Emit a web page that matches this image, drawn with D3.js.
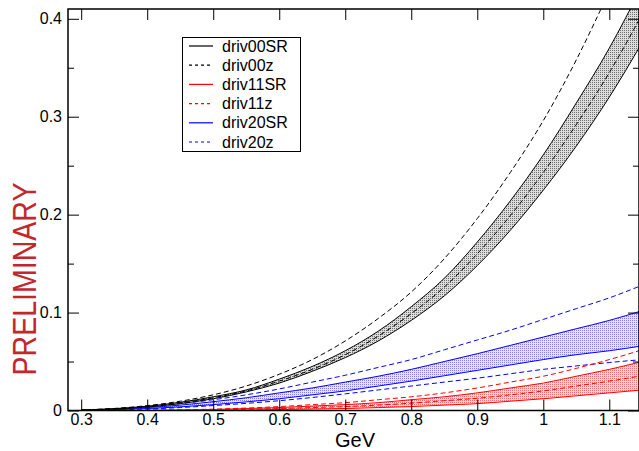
<!DOCTYPE html>
<html>
<head>
<meta charset="utf-8">
<script src="https://cdn.jsdelivr.net/npm/d3@7"></script>
<style>
  body { margin: 0; background: #fff; }
  svg text { font-family: "Liberation Sans", Arial, sans-serif; }
</style>
</head>
<body>
<div id="chart"></div>
<script>
// energies (GeV)
var gev = [0.3, 0.35, 0.4, 0.45, 0.5, 0.55, 0.6, 0.65, 0.7, 0.75, 0.8, 0.85, 0.9, 0.95, 1.0, 1.05, 1.1, 1.15];

// driv00 : band + inner dashed, and separate dashed z curve
var d00Lo  = [0.0004, 0.0015, 0.0036, 0.007, 0.012, 0.019, 0.028, 0.040, 0.054, 0.071, 0.092, 0.117, 0.148, 0.184, 0.225, 0.270, 0.320, 0.376];
var d00Mid = [0.0005, 0.0017, 0.0040, 0.0077, 0.013, 0.020, 0.030, 0.042, 0.057, 0.076, 0.099, 0.126, 0.160, 0.199, 0.243, 0.292, 0.345, 0.405];
var d00Hi  = [0.0006, 0.0019, 0.0044, 0.0084, 0.014, 0.021, 0.032, 0.045, 0.061, 0.081, 0.106, 0.135, 0.172, 0.214, 0.261, 0.314, 0.370, 0.434];
var d00z   = [0.0006, 0.0021, 0.005, 0.0095, 0.016, 0.025, 0.037, 0.052, 0.071, 0.094, 0.121, 0.155, 0.196, 0.243, 0.296, 0.358, 0.428, 0.500];

// driv11 : band + inner dashed, and dashed z curve
var d11Lo  = [0, 0, 0, 0.0001, 0.0002, 0.0005, 0.001, 0.0015, 0.002, 0.003, 0.004, 0.0055, 0.007, 0.0095, 0.012, 0.015, 0.018, 0.021];
var d11Mid = [0, 0, 0.0001, 0.0003, 0.0006, 0.0012, 0.002, 0.003, 0.004, 0.0055, 0.0075, 0.010, 0.0125, 0.016, 0.020, 0.025, 0.030, 0.0355];
var d11Hi  = [0, 0, 0.0002, 0.0005, 0.001, 0.002, 0.003, 0.0045, 0.006, 0.008, 0.011, 0.014, 0.018, 0.023, 0.028, 0.035, 0.042, 0.050];
var d11z   = [0, 0, 0.0003, 0.0007, 0.0014, 0.0025, 0.004, 0.006, 0.008, 0.011, 0.014, 0.018, 0.023, 0.029, 0.035, 0.043, 0.052, 0.062];

// driv20 : band and two dashed z curves
var d20Lo  = [0, 0.0008, 0.002, 0.0037, 0.006, 0.0088, 0.012, 0.016, 0.020, 0.025, 0.030, 0.0355, 0.041, 0.0465, 0.052, 0.057, 0.061, 0.066];
var d20Hi  = [0, 0.0012, 0.003, 0.0055, 0.009, 0.013, 0.018, 0.023, 0.029, 0.035, 0.042, 0.050, 0.058, 0.0665, 0.075, 0.0835, 0.092, 0.102];
var d20zLo = [0, 0.0006, 0.0015, 0.003, 0.005, 0.0073, 0.010, 0.0133, 0.017, 0.021, 0.025, 0.029, 0.033, 0.0375, 0.042, 0.0455, 0.049, 0.052];
var d20zHi = [0, 0.0015, 0.004, 0.007, 0.011, 0.016, 0.022, 0.029, 0.036, 0.044, 0.052, 0.062, 0.072, 0.082, 0.093, 0.104, 0.115, 0.128];

var xTicks = [0.3, 0.4, 0.5, 0.6, 0.7, 0.8, 0.9, 1.0, 1.1];
var yTicks = [0, 0.1, 0.2, 0.3, 0.4];
var yMinor = [0.05, 0.15, 0.25, 0.35];
var legendNames = ["driv00SR", "driv00z", "driv11SR", "driv11z", "driv20SR", "driv20z"];
var legendColors = ["#000000", "#000000", "#ff0000", "#ff0000", "#0000ff", "#0000ff"];
var legendDash = [null, "3,3", null, "3,3", null, "3,3"];

var W = 639, H = 451;
var L = 68, R = 639, T = 9, B = 410.5;

var svg = d3.select("#chart").append("svg")
    .attr("width", W)
    .attr("height", H);

var x = d3.scaleLinear().domain([0.28, 1.145]).range([L, R]);
var y = d3.scaleLinear().domain([0, 0.41]).range([B, T]);

// dot patterns for the bands
var defs = svg.append("defs");
function dots(id, col, bg) {
  var p = defs.append("pattern").attr("id", id)
      .attr("patternUnits", "userSpaceOnUse")
      .attr("width", 2).attr("height", 2);
  p.append("rect").attr("width", 2).attr("height", 2).attr("fill", bg);
  p.append("rect").attr("width", 1).attr("height", 1).attr("fill", col);
}
dots("dotK", "#707070", "#dcdcdc");
dots("dotR", "#ff6a6a", "#ffe6e6");
dots("dotB", "#8080ff", "#e8e8ff");

defs.append("clipPath").attr("id", "plotclip")
  .append("rect").attr("x", L).attr("y", T).attr("width", R - L).attr("height", B - T);

var plot = svg.append("g").attr("clip-path", "url(#plotclip)");

var area = d3.area()
    .x(function (d, i) { return x(gev[i]); })
    .y0(function (d) { return y(d[0]); })
    .y1(function (d) { return y(d[1]); })
    .curve(d3.curveMonotoneX);
var line = d3.line()
    .x(function (d, i) { return x(gev[i]); })
    .y(function (d) { return y(d); })
    .curve(d3.curveMonotoneX);

function band(lo, hi, pat, col) {
  plot.append("path")
    .datum(lo.map(function (v, i) { return [v, hi[i]]; }))
    .attr("d", area)
    .attr("fill", "url(#" + pat + ")");
  [lo, hi].forEach(function (s) {
    plot.append("path").datum(s).attr("d", line)
      .attr("fill", "none").attr("stroke", col).attr("stroke-width", 1);
  });
}
function dashed(s, col) {
  plot.append("path").datum(s).attr("d", line)
    .attr("fill", "none").attr("stroke", col).attr("stroke-width", 1)
    .attr("stroke-dasharray", "5,3");
}

band(d20Lo, d20Hi, "dotB", "#0000ff");
dashed(d20zLo, "#0000ff");
dashed(d20zHi, "#0000ff");

band(d11Lo, d11Hi, "dotR", "#ff0000");
dashed(d11Mid, "#ff0000");
dashed(d11z, "#ff0000");

band(d00Lo, d00Hi, "dotK", "#000000");
dashed(d00Mid, "#000000");
dashed(d00z, "#000000");

// frame
svg.append("rect")
    .attr("x", L).attr("y", T).attr("width", R - L).attr("height", B - T)
    .attr("fill", "none").attr("stroke", "#000").attr("stroke-width", 1.5);

// axes (ticks inward)
var bottomAxis = d3.axisBottom(x).tickValues(xTicks).tickSize(-11).tickPadding(3)
    .tickFormat(function (d) { return d === 1 ? "1" : d3.format(".1f")(d); });
svg.append("g").attr("transform", "translate(0," + B + ")").call(bottomAxis)
    .call(function (g) { g.select(".domain").remove(); });
svg.append("g").attr("transform", "translate(0," + T + ")")
    .call(d3.axisTop(x).tickValues(xTicks).tickSize(-11).tickFormat(""))
    .call(function (g) { g.select(".domain").remove(); });

var leftAxis = d3.axisLeft(y).tickValues(yTicks).tickSize(-11).tickPadding(6)
    .tickFormat(function (d) { return d === 0 ? "0" : d3.format(".1f")(d); });
svg.append("g").attr("transform", "translate(" + L + ",0)").call(leftAxis)
    .call(function (g) { g.select(".domain").remove(); });
svg.append("g").attr("transform", "translate(" + L + ",0)")
    .call(d3.axisLeft(y).tickValues(yMinor).tickSize(-6).tickFormat(""))
    .call(function (g) { g.select(".domain").remove(); });
svg.append("g").attr("transform", "translate(" + R + ",0)")
    .call(d3.axisRight(y).tickValues(yTicks).tickSize(-11).tickFormat(""))
    .call(function (g) { g.select(".domain").remove(); });
svg.append("g").attr("transform", "translate(" + R + ",0)")
    .call(d3.axisRight(y).tickValues(yMinor).tickSize(-6).tickFormat(""))
    .call(function (g) { g.select(".domain").remove(); });

svg.selectAll(".tick text").attr("font-size", 16).attr("fill", "#000")
    .style("font-family", "'Liberation Sans', Arial, sans-serif");
svg.selectAll(".tick line").attr("stroke", "#000");

// axis label
svg.append("text")
    .attr("x", 355).attr("y", 446.5)
    .attr("text-anchor", "middle")
    .attr("font-size", 20)
    .text("GeV");

// watermark (narrow, tall letters)
svg.append("text")
    .attr("transform", "translate(36,279) rotate(-90)")
    .attr("text-anchor", "middle")
    .attr("font-size", 34)
    .attr("textLength", 193)
    .attr("lengthAdjust", "spacingAndGlyphs")
    .attr("fill", "#c0282d")
    .text("PRELIMINARY");

// legend
var lg = svg.append("g");
lg.append("rect")
    .attr("x", 182.5).attr("y", 37.5).attr("width", 118).attr("height", 114)
    .attr("fill", "#fff").attr("stroke", "#000").attr("stroke-width", 1);
legendNames.forEach(function (name, i) {
  var yy = 46 + i * 19.2;
  lg.append("line")
    .attr("x1", 189).attr("x2", 213).attr("y1", yy).attr("y2", yy)
    .attr("stroke", legendColors[i]).attr("stroke-width", 1.2)
    .attr("stroke-dasharray", legendDash[i]);
  lg.append("text")
    .attr("x", 222).attr("y", yy + 5.5)
    .attr("font-size", 16)
    .text(name);
});
</script>
</body>
</html>
